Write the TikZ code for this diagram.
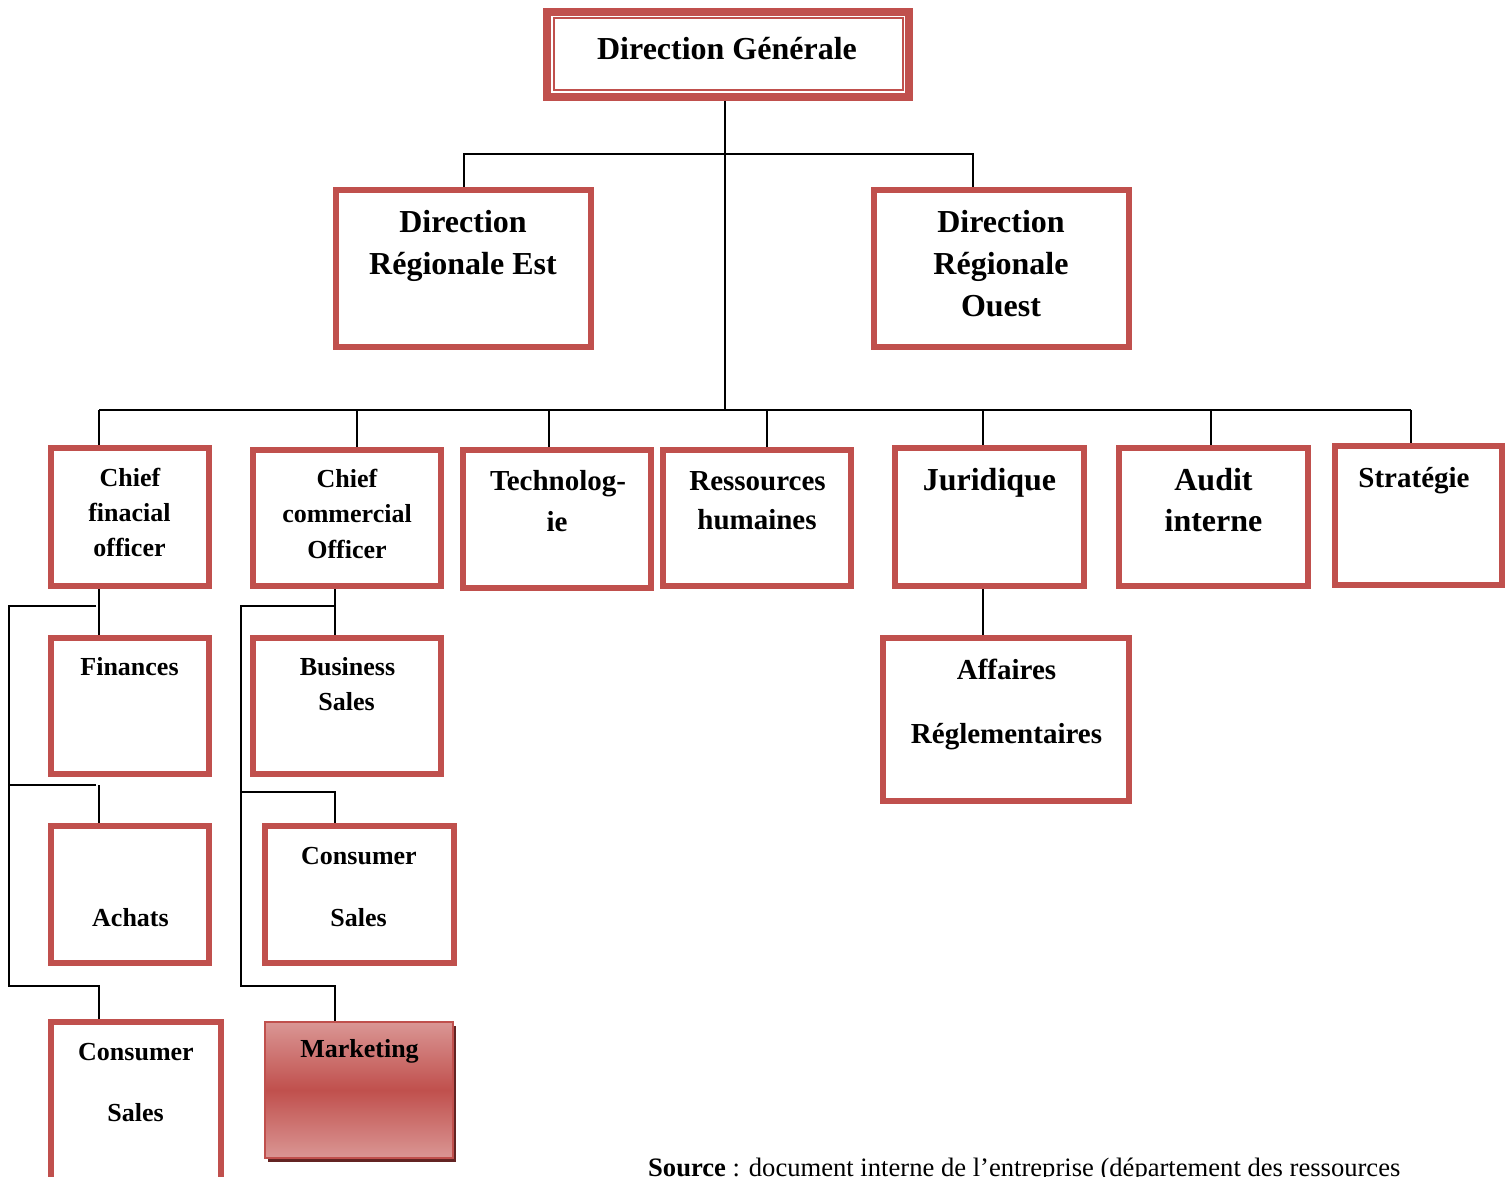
\documentclass[tikz,border=0pt]{standalone}
\usepackage{fontspec}
\setmainfont{Liberation Serif}
\usetikzlibrary{shadows}
\definecolor{myred}{RGB}{192,80,77}
\definecolor{mklight}{RGB}{218,150,148}
\definecolor{mkshadow}{RGB}{99,36,35}
\tikzset{
  box/.style={draw=myred, line width=6pt, fill=white, inner sep=0pt, rectangle},
  conn/.style={draw=black, line width=2pt},
  lbl/.style={anchor=base, inner sep=0pt, font=\bfseries},
  tA/.style={lbl, font=\fontsize{32}{38}\selectfont\bfseries},
  tB/.style={lbl, font=\fontsize{29}{35}\selectfont\bfseries},
  tC/.style={lbl, font=\fontsize{26}{31}\selectfont\bfseries},
}
\begin{document}
\begin{tikzpicture}[x=1pt,y=-1pt]
\useasboundingbox (0,0) rectangle (1507,1177);
\clip (0,0) rectangle (1507,1177);

% ---- connector coordinates ----
\coordinate (spine) at (725,410);
\coordinate (j1) at (973,154);
\coordinate (busL) at (99,410);
\coordinate (busR) at (1411,410);
\coordinate (d2) at (357,410);
\coordinate (d3) at (549,410);
\coordinate (d4) at (767,410);
\coordinate (d5) at (983,410);
\coordinate (d6) at (1211,410);
\coordinate (L1) at (9,606);
\coordinate (L1e) at (96,606);
\coordinate (L2) at (9,785);
\coordinate (L2e) at (96,785);
\coordinate (L2d) at (99,785);
\coordinate (L3) at (9,986);
\coordinate (K) at (335,606);
\coordinate (K1) at (241,606);
\coordinate (K2) at (241,792);
\coordinate (K3) at (241,986);

% ---- boxes ----
\node[draw=myred, line width=8pt, fill=white, inner sep=0pt, minimum width=362pt, minimum height=85pt] (dg) at (728,54.5) {};
\node[draw=myred, line width=2pt, inner sep=0pt, minimum width=349pt, minimum height=72pt] (dgin) at (728,54.5) {};

\node[box, minimum width=255pt, minimum height=157pt] (dre) at (463.5,268.5) {};
\node[box, minimum width=255pt, minimum height=157pt] (dro) at (1001.5,268.5) {};

\node[box, minimum width=158pt, minimum height=138pt] (cfo) at (130,517) {};
\node[box, minimum width=188pt, minimum height=136pt] (cco) at (347,518) {};
\node[box, minimum width=188pt, minimum height=138pt] (tec) at (557,519) {};
\node[box, minimum width=188pt, minimum height=136pt] (res) at (757,518) {};
\node[box, minimum width=189pt, minimum height=138pt] (jur) at (989.5,517) {};
\node[box, minimum width=189pt, minimum height=138pt] (aud) at (1213.5,517) {};
\node[box, minimum width=167pt, minimum height=139pt] (str) at (1418.5,515.5) {};

\node[box, minimum width=158pt, minimum height=136pt] (fin) at (130,706) {};
\node[box, minimum width=188pt, minimum height=136pt] (bus) at (347,706) {};
\node[box, minimum width=158pt, minimum height=137pt] (ach) at (130,894.5) {};
\node[box, minimum width=189pt, minimum height=137pt] (cmid) at (359.5,894.5) {};
\node[box, minimum width=170pt, minimum height=170pt] (cbl) at (136,1107) {};
\node[box, minimum width=246pt, minimum height=163pt] (aff) at (1006,719.5) {};

\node[draw=myred, line width=2pt, inner sep=0pt, minimum width=188pt, minimum height=136pt,
      general shadow={fill=mkshadow, shadow xshift=3pt, shadow yshift=-4pt},
      top color=mklight, bottom color=mklight, middle color=myred] (mkt) at (359,1090) {};

% ---- connector lines ----
\draw[conn] (dg.south -| spine) -- (spine);
\draw[conn] (dre.north) |- (j1) -- (j1 |- dro.north);
\draw[conn] (busL) -- (busR);
\draw[conn] (busL) -- (busL |- cfo.north);
\draw[conn] (d2) -- (d2 |- cco.north);
\draw[conn] (d3) -- (d3 |- tec.north);
\draw[conn] (d4) -- (d4 |- res.north);
\draw[conn] (d5) -- (d5 |- jur.north);
\draw[conn] (d6) -- (d6 |- aud.north);
\draw[conn] (busR) -- (busR |- str.north);
\draw[conn] (cfo.south -| busL) -- (fin.north -| busL);
\draw[conn] (L1e) -- (L1) -- (L3) -| (cbl.north -| busL);
\draw[conn] (L2) -- (L2e);
\draw[conn] (L2d) -- (L2d |- ach.north);
\draw[conn] (cco.south -| K) -- (bus.north -| K);
\draw[conn] (K) -- (K1) -- (K3) -| (mkt.north -| K);
\draw[conn] (K2) -| (cmid.north -| K);
\draw[conn] (jur.south -| d5) -- (aff.north -| d5);

% ---- labels ----
\node[tA] (t-dg) at (727,60) {Direction Générale};
\node[tA] (t-dre1) at (463,232.5) {Direction};
\node[tA] (t-dre2) at (463,274.5) {Régionale Est};
\node[tA] (t-dro1) at (1001,232.5) {Direction};
\node[tA] (t-dro2) at (1001,274.5) {Régionale};
\node[tA] (t-dro3) at (1001,316.5) {Ouest};

\node[tC] (t-cfo1) at (130,486) {Chief};
\node[tC] (t-cfo2) at (129.5,521.5) {finacial};
\node[tC] (t-cfo3) at (129.5,556.5) {officer};
\node[tC] (t-cco1) at (347,487.5) {Chief};
\node[tC] (t-cco2) at (347,522.5) {commercial};
\node[tC] (t-cco3) at (347,558) {Officer};
\node[tB] (t-tec1) at (558,490) {Technolog-};
\node[tB] (t-tec2) at (557,531.5) {ie};
\node[tB] (t-res1) at (757.5,490) {Ressources};
\node[tB] (t-res2) at (757,529.5) {humaines};
\node[tA] (t-jur) at (989.5,490.5) {Juridique};
\node[tA] (t-aud1) at (1213.5,490.5) {Audit};
\node[tA] (t-aud2) at (1213.5,531.5) {interne};
\node[tB] (t-str) at (1414,487) {Stratégie};

\node[tC] (t-fin) at (129.5,675.5) {Finances};
\node[tC] (t-bus1) at (347.5,675.5) {Business};
\node[tC] (t-bus2) at (346.5,710.5) {Sales};
\node[tC] (t-ach) at (130.5,926.5) {Achats};
\node[tC] (t-cm1) at (359,864) {Consumer};
\node[tC] (t-cm2) at (358.5,926.5) {Sales};
\node[tC] (t-cb1) at (136,1060.5) {Consumer};
\node[tC] (t-cb2) at (135.5,1121.5) {Sales};
\node[tC] (t-mkt) at (359.5,1057) {Marketing};
\node[tB] (t-aff1) at (1006.5,679) {Affaires};
\node[tB] (t-aff2) at (1006.5,743) {Réglementaires};

\node[anchor=base west, inner sep=0pt, font=\fontsize{26.6}{31}\selectfont] (src) at (648,1176)
  {\textbf{Source} : document interne de l’entreprise (département des ressources};
\end{tikzpicture}
\end{document}
